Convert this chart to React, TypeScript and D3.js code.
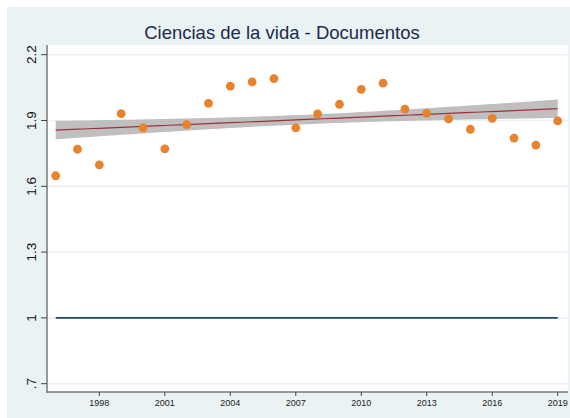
import React from "react";
import * as d3 from "d3";

const years = d3.range(1996, 2020);
const values = [
  1.648, 1.769, 1.698, 1.931, 1.866, 1.771, 1.881, 1.978, 2.057, 2.076, 2.091, 1.866,
  1.93, 1.974, 2.042, 2.07, 1.952, 1.933, 1.907, 1.86, 1.91, 1.82, 1.788, 1.898,
];
const xTicks = [1998, 2001, 2004, 2007, 2010, 2013, 2016, 2019];
const yTicks = [0.7, 1, 1.3, 1.6, 1.9, 2.2];
const yTickLabels = [".7", "1", "1.3", "1.6", "1.9", "2.2"];
const referenceValue = [1];
// half-width of the shaded confidence band at the ends of the fit
const bandHalfWidthAtEnds = [0.042];
const title = "Ciencias de la vida - Documentos";

const W = 570;
const H = 418;
const plot = { left: 47, right: 568, top: 45, bottom: 392 };

export default function App() {
  const x = d3.scaleLinear().domain([1996, 2019]).range([55.7, 557.7]);
  const y = d3.scaleLinear().domain([0.7, 2.2]).range([383.7, 54.7]);

  // OLS fit
  const n = years.length;
  const mx = d3.mean(years) as number;
  const my = d3.mean(values) as number;
  const sxx = d3.sum(years, (t) => (t - mx) ** 2);
  const sxy = d3.sum(years, (t, i) => (t - mx) * (values[i] - my));
  const slope = sxy / sxx;
  const fit = (t: number) => my + slope * (t - mx);
  const endFactor = Math.sqrt(1 / n + (years[0] - mx) ** 2 / sxx);
  const c = bandHalfWidthAtEnds[0] / endFactor;
  const hw = (t: number) => c * Math.sqrt(1 / n + (t - mx) ** 2 / sxx);
  const grid = d3.range(1996, 2019.001, 0.25);

  const area = d3
    .area<number>()
    .x((t) => x(t))
    .y0((t) => y(fit(t) - hw(t)))
    .y1((t) => y(fit(t) + hw(t)));
  const line = d3
    .line<number>()
    .x((t) => x(t))
    .y((t) => y(fit(t)));

  const font = "'Liberation Sans', Arial, Helvetica, sans-serif";

  return (
    <div style={{ position: "absolute", left: 0, top: 0 }}>
      <svg width={W} height={H} style={{ display: "block" }}>
        <rect x={0} y={0} width={W} height={H} fill="#ffffff" />
        <rect x={7} y={7} width={W - 7} height={H - 7} fill="#eaf2f3" />
        <rect
          x={plot.left}
          y={plot.top}
          width={plot.right - plot.left}
          height={plot.bottom - plot.top}
          fill="#ffffff"
        />
        <text
          x={282}
          y={39}
          textAnchor="middle"
          fontFamily={font}
          fontSize={18.5}
          fill="#1c2b4b"
        >
          {title}
        </text>
        {/* gridlines */}
        {yTicks.map((v) => (
          <line
            key={"g" + v}
            x1={plot.left}
            x2={plot.right}
            y1={y(v)}
            y2={y(v)}
            stroke="#eaf2f3"
            strokeWidth={1.5}
          />
        ))}
        {/* reference line */}
        {referenceValue.map((v) => (
          <line
            key={"r" + v}
            x1={x(1996)}
            x2={x(2019)}
            y1={y(v)}
            y2={y(v)}
            stroke="#1a476f"
            strokeWidth={1.8}
          />
        ))}
        {/* CI band and fit */}
        <path d={area(grid) as string} fill="#bfbfbf" />
        <path d={line(grid) as string} fill="none" stroke="#9e2f3e" strokeWidth={1.2} />
        {/* points */}
        {years.map((t, i) => (
          <circle key={t} cx={x(t)} cy={y(values[i])} r={4.4} fill="#e8822d" />
        ))}
        {/* axes */}
        <line
          x1={plot.left}
          x2={plot.left}
          y1={plot.top}
          y2={plot.bottom + 0.75}
          stroke="#7a7a7a"
          strokeWidth={1.5}
        />
        <line
          x1={plot.left - 0.75}
          x2={plot.right}
          y1={plot.bottom}
          y2={plot.bottom}
          stroke="#7a7a7a"
          strokeWidth={1.5}
        />
        {yTicks.map((v, i) => (
          <g key={"yt" + v}>
            <line
              x1={plot.left - 6}
              x2={plot.left}
              y1={y(v)}
              y2={y(v)}
              stroke="#444"
              strokeWidth={1}
            />
            <text
              transform={`translate(35.5,${y(v)}) rotate(-90)`}
              textAnchor="middle"
              fontFamily={font}
              fontSize={13.5}
              fill="#111"
            >
              {yTickLabels[i]}
            </text>
          </g>
        ))}
        {xTicks.map((t) => (
          <g key={"xt" + t}>
            <line
              x1={x(t)}
              x2={x(t)}
              y1={plot.bottom}
              y2={plot.bottom + 4}
              stroke="#444"
              strokeWidth={1}
            />
            <text
              x={x(t)}
              y={405.5}
              textAnchor="middle"
              fontFamily={font}
              fontSize={9}
              fill="#222"
            >
              {t}
            </text>
          </g>
        ))}
      </svg>
    </div>
  );
}
